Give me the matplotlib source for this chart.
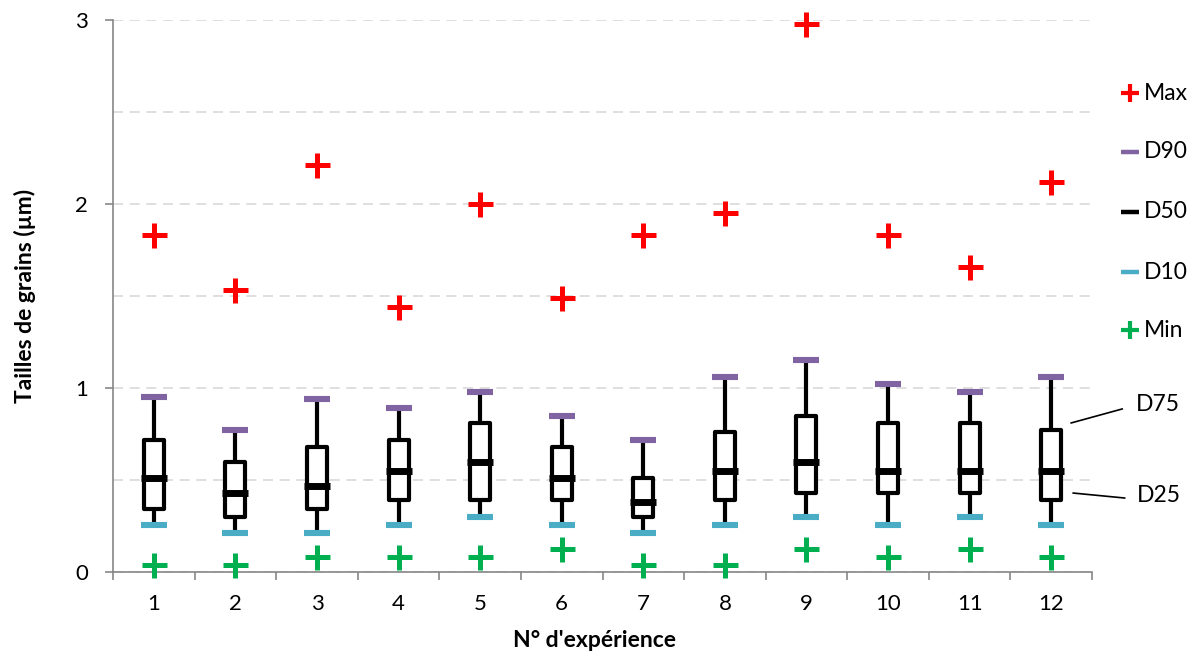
import matplotlib.pyplot as plt
from matplotlib.ticker import MultipleLocator

# values (µm)
exp = [1, 2, 3, 4, 5, 6, 7, 8, 9, 10, 11, 12]
v_max = [1.83, 1.53, 2.21, 1.44, 2.00, 1.49, 1.83, 1.95, 2.98, 1.83, 1.66, 2.12]
d90 = [0.95, 0.77, 0.94, 0.89, 0.98, 0.85, 0.72, 1.06, 1.15, 1.02, 0.98, 1.06]
d75 = [0.72, 0.60, 0.68, 0.72, 0.81, 0.68, 0.51, 0.76, 0.85, 0.81, 0.81, 0.77]
d50 = [0.51, 0.43, 0.47, 0.55, 0.60, 0.51, 0.38, 0.55, 0.60, 0.55, 0.55, 0.55]
d25 = [0.34, 0.30, 0.34, 0.39, 0.39, 0.39, 0.30, 0.39, 0.43, 0.43, 0.43, 0.39]
d10 = [0.255, 0.21, 0.21, 0.255, 0.30, 0.255, 0.21, 0.255, 0.30, 0.255, 0.30, 0.255]
v_min = [0.04, 0.04, 0.08, 0.08, 0.08, 0.125, 0.04, 0.04, 0.125, 0.08, 0.125, 0.08]

series = [('Max', v_max, '+', '#FF0000'),
          ('D90', d90, '_', '#8064A2'),
          ('D50', d50, '_', 'black'),
          ('D10', d10, '_', '#4BACC6'),
          ('Min', v_min, '+', '#00B050')]

plt.rcParams['font.family'] = ['Lato', 'DejaVu Sans']

fig = plt.figure(figsize=(12, 6.57), dpi=100)
ax = fig.add_axes([0.0942, 0.1294, 0.8158, 0.8402])

# whiskers
ax.vlines(exp, d10, d25, color='black', lw=3, zorder=2)
ax.vlines(exp, d75, d90, color='black', lw=3, zorder=2)
# boxes
heights = [a - b for a, b in zip(d75, d25)]
ax.bar(exp, heights, bottom=d25, width=0.245, facecolor='white', edgecolor='black',
       linewidth=3, joinstyle='round', zorder=3)

# markers
for name, vals, mk, col in series:
    if mk == '+':
        ax.plot(exp, vals, ls='none', marker='+', ms=18, mew=3.6, color=col,
                zorder=5, clip_on=False)
    else:
        ax.plot(exp, vals, ls='none', marker='_', ms=19, mew=5 if name == 'D50' else 4.4,
                color=col, zorder=5, clip_on=False)

ax.set_xlim(0.5, 12.5)
ax.set_ylim(0, 3)
ax.set_xticks(exp)
ax.set_xticks([i + 0.5 for i in range(13)], minor=True)
ax.tick_params(axis='x', which='major', length=0, labelsize=16, pad=16)
ax.tick_params(axis='x', which='minor', length=6, color='#868686', width=1.2)
ax.yaxis.set_major_locator(MultipleLocator(1))
ax.yaxis.set_minor_locator(MultipleLocator(0.5))
ax.tick_params(axis='y', which='major', length=6, color='#868686', width=1.2,
               labelsize=16, pad=12)
ax.tick_params(axis='y', which='minor', length=0)
ax.grid(axis='y', which='both', ls=(0, (6, 4)), color='#D9D9D9', lw=1.2, zorder=0)
ax.set_axisbelow(True)

for s in ['top', 'right']:
    ax.spines[s].set_visible(False)
for s in ['left', 'bottom']:
    ax.spines[s].set_color('#868686')
    ax.spines[s].set_linewidth(1.2)

ax.set_xlabel("N° d'expérience", fontsize=16.5, fontweight='bold', va='center')
ax.xaxis.set_label_coords(0.492, -0.125)
ax.set_ylabel('Tailles de grains (µm)', fontsize=16.5, fontweight='bold', va='center')
ax.yaxis.set_label_coords(-0.09, 0.5)

# legend on the right, one entry per series
leg_y = [2.603, 2.283, 1.957, 1.630, 1.315]
for (name, vals, mk, col), yy in zip(series, leg_y):
    if mk == '+':
        ax.plot([12.97], [yy], marker='+', ms=12.5, mew=3, color=col, clip_on=False)
    else:
        ax.plot([12.97], [yy], marker='_', ms=13.5, mew=3.2, color=col, clip_on=False)
    ax.text(13.14, yy, name, fontsize=16.5, va='center', ha='left')

# D75 / D25 call-outs
ax.plot([12.245, 12.87], [0.810, 0.886], color='black', lw=1.2, clip_on=False)
ax.text(13.04, 0.908, 'D75', fontsize=16.5, va='center', ha='left')
ax.plot([12.27, 12.90], [0.429, 0.402], color='black', lw=1.2, clip_on=False)
ax.text(13.05, 0.418, 'D25', fontsize=16.5, va='center', ha='left')

fig.savefig('out.png', dpi=100)
